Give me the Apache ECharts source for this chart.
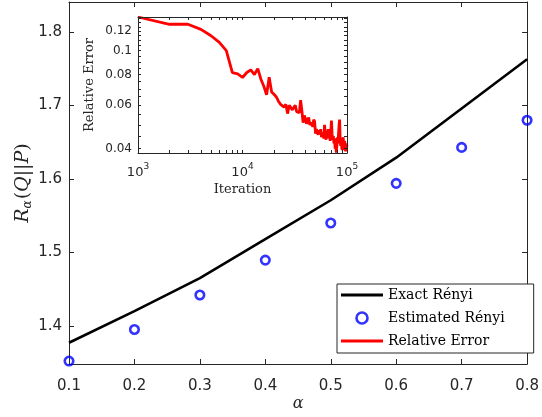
<!DOCTYPE html>
<html>
<head>
<meta charset="utf-8">
<script src="https://cdn.jsdelivr.net/npm/echarts@6/dist/echarts.min.js"></script>
<style>
html,body{margin:0;padding:0;background:#fff;}
#c{width:542px;height:417px;}
</style>
</head>
<body>
<div id="c"></div>
<script>
// ---- data ----
const alphaVals = [0.1, 0.2, 0.3, 0.4, 0.5, 0.6, 0.7, 0.8];
const exactRenyi = [1.377, 1.420, 1.465, 1.518, 1.571, 1.629, 1.696, 1.763];
const estimatedRenyi = [1.352, 1.395, 1.442, 1.4895, 1.540, 1.594, 1.643, 1.680];
const mainYTicks = [1.4, 1.5, 1.6, 1.7, 1.8];

const iterationStep = 1000;
const relativeError = [
  0.137, 0.128, 0.128, 0.122, 0.115, 0.108, 0.100, 0.0814, 0.0805, 0.0778,
  0.0815, 0.0835, 0.0800, 0.0845, 0.0766, 0.0717, 0.0662, 0.0780, 0.0680, 0.0665,
  0.0650, 0.0625, 0.0607, 0.0612, 0.0590, 0.0605, 0.0555, 0.0600, 0.0590, 0.0575,
  0.0582, 0.0600, 0.0565, 0.0575, 0.0560, 0.0630, 0.0570, 0.0510, 0.0545, 0.0530,
  0.0505, 0.0520, 0.0535, 0.0500, 0.0495, 0.0510, 0.0490, 0.0525, 0.0515, 0.0460,
  0.0480, 0.0470, 0.0455, 0.0475, 0.0460, 0.0480, 0.0445, 0.0465, 0.0470, 0.0440,
  0.0500, 0.0450, 0.0435, 0.0470, 0.0455, 0.0480, 0.0440, 0.0465, 0.0430, 0.0470,
  0.0520, 0.0460, 0.0435, 0.0450, 0.0420, 0.0440, 0.0400, 0.0425, 0.0385, 0.0410,
  0.0445, 0.0420, 0.0460, 0.0500, 0.0525, 0.0440, 0.0410, 0.0430, 0.0405, 0.0395,
  0.0420, 0.0445, 0.0410, 0.0395, 0.0430, 0.0400, 0.0390, 0.0420, 0.0405, 0.0415
];
const insetYLabels = [0.04, 0.06, 0.08, 0.1, 0.12];
const insetYMinor = [0.04,0.045,0.05,0.055,0.06,0.065,0.07,0.075,0.08,0.085,0.09,0.095,0.1,0.105,0.11,0.115,0.12,0.125,0.13,0.135];
const insetXTicks = [1000,2000,3000,4000,5000,6000,7000,8000,9000,10000,20000,30000,40000,50000,60000,70000,80000,90000,100000];
const insetXLabels = [1000, 10000, 100000];

// ---- chart ----
const AX = '#262626';
const SANS = 'DejaVu Sans, Arial, sans-serif';
const SERIF = 'DejaVu Serif, Liberation Serif, serif';

const relPairs = relativeError.map((v, i) => [(i + 1) * iterationStep, v]);
const exactPairs = alphaVals.map((a, i) => [a, exactRenyi[i]]);
const estPairs = alphaVals.map((a, i) => [a, estimatedRenyi[i]]);

function mainX(pos, show) {
  return {
    type: 'value', gridIndex: 0, position: pos, min: 0.1, max: 0.8, interval: 0.1, z: 3,
    axisLine: {show: true, onZero: false, lineStyle: {color: AX, width: 1}},
    axisTick: {show: true, inside: true, length: 5, lineStyle: {color: AX}},
    axisLabel: {show: show, margin: 15, color: AX, fontFamily: SANS, fontSize: 15,
      alignMinLabel: 'center', alignMaxLabel: 'center', hideOverlap: false,
      formatter: v => v.toFixed(1)},
    splitLine: {show: false},
    name: show ? 'α' : '', nameLocation: 'middle', nameGap: 32, nameMoveOverlap: false,
    nameTextStyle: {fontFamily: SERIF, fontStyle: 'italic', fontSize: 16, color: AX}
  };
}
function mainY(pos, show) {
  return {
    type: 'value', gridIndex: 0, position: pos, min: 1.348, max: 1.841, z: 3,
    axisLine: {show: true, onZero: false, lineStyle: {color: AX, width: 1}},
    axisTick: {show: true, inside: true, length: 5, lineStyle: {color: AX}, customValues: mainYTicks},
    axisLabel: {show: show, margin: 7, color: AX, fontFamily: SANS, fontSize: 15, customValues: mainYTicks,
      formatter: v => v.toFixed(1)},
    splitLine: {show: false},
    name: show ? '{i|R}{s|α}{n|(}{i|Q}{n|||}{i|P}{n|)}' : '',
    nameLocation: 'middle', nameGap: 35, nameRotate: 90, nameMoveOverlap: false,
    nameTextStyle: {
      color: AX,
      rich: {
        i: {fontFamily: SERIF, fontStyle: 'italic', fontSize: 19, color: AX},
        n: {fontFamily: SERIF, fontSize: 19, color: AX},
        s: {fontFamily: SERIF, fontStyle: 'italic', fontSize: 12, color: AX, verticalAlign: 'bottom', padding: [9, 1, 0, 0]}
      }
    }
  };
}
function insetX(pos, show) {
  return {
    type: 'log', logBase: 10, gridIndex: 1, position: pos, min: 1000, max: 100000, z: 10,
    axisLine: {show: true, onZero: false, lineStyle: {color: AX, width: 1}},
    axisTick: {show: true, inside: true, length: 3, lineStyle: {color: AX}, customValues: insetXTicks},
    axisLabel: {show: show, margin: 7, color: AX, fontFamily: SANS, fontSize: 13, customValues: insetXLabels,
      formatter: v => '{b|10}{e|' + Math.round(Math.log10(v)) + '}',
      rich: {
        b: {fontFamily: SANS, fontSize: 13, color: AX, padding: [6, 0, 0, 0]},
        e: {fontFamily: SANS, fontSize: 9, color: AX, padding: [0, 0, 6, 0]}
      }},
    splitLine: {show: false},
    name: show ? 'Iteration' : '', nameLocation: 'middle', nameGap: 30, nameMoveOverlap: false,
    nameTextStyle: {fontFamily: SERIF, fontSize: 13, color: AX}
  };
}
function insetY(pos, show) {
  return {
    type: 'log', logBase: 10, gridIndex: 1, position: pos, min: 0.0384, max: 0.137, z: 10,
    axisLine: {show: true, onZero: false, lineStyle: {color: AX, width: 1}},
    axisTick: {show: true, inside: true, length: 3, lineStyle: {color: AX}, customValues: insetYMinor},
    axisLabel: {show: show, margin: 6, color: AX, fontFamily: SANS, fontSize: 12, customValues: insetYLabels,
      formatter: v => String(+v.toFixed(2))},
    splitLine: {show: false},
    name: show ? 'Relative Error' : '', nameLocation: 'middle', nameGap: 42, nameRotate: 90, nameMoveOverlap: false,
    nameTextStyle: {fontFamily: SERIF, fontSize: 13, color: AX}
  };
}

const chart = echarts.init(document.getElementById('c'), null, {renderer: 'canvas'});
chart.setOption({
  animation: false,
  backgroundColor: '#fff',
  grid: [
    {left: 69, right: 9, top: 2, bottom: 53, show: false},
    {left: 138, right: 195, top: 17, bottom: 264, show: true, backgroundColor: '#fff', borderWidth: 0, z: 1}
  ],
  xAxis: [mainX('bottom', true), mainX('top', false), insetX('bottom', true), insetX('top', false)],
  yAxis: [mainY('left', true), mainY('right', false), insetY('left', true), insetY('right', false)],
  legend: {
    left: 337, top: 284, orient: 'vertical',
    padding: [4, 29, 5, 4], itemGap: 9, itemWidth: 42, itemHeight: 11,
    borderColor: AX, borderWidth: 1, backgroundColor: '#fff',
    textStyle: {fontFamily: SERIF, fontSize: 14, color: '#000'},
    data: [
      {name: 'Exact Rényi', icon: 'path://M0,0L42,0L42,3L0,3Z', itemStyle: {color: '#000'}},
      {name: 'Estimated Rényi', icon: 'circle',
        itemStyle: {color: 'rgba(0,0,0,0)', borderColor: '#0000ff', borderWidth: 2.6}},
      {name: 'Relative Error', icon: 'path://M0,0L42,0L42,3L0,3Z', itemStyle: {color: '#ff0000'}}
    ]
  },
  series: [
    {
      name: 'Exact Rényi', type: 'line', xAxisIndex: 0, yAxisIndex: 0,
      data: exactPairs, showSymbol: false, symbol: 'none',
      lineStyle: {color: '#000', width: 2.6}, itemStyle: {color: '#000'}, z: 3
    },
    {
      name: 'Estimated Rényi', type: 'scatter', xAxisIndex: 0, yAxisIndex: 0,
      data: estPairs, symbol: 'circle', symbolSize: 8.5, clip: false,
      itemStyle: {color: 'rgba(0,0,0,0)', borderColor: '#0000ff', borderWidth: 2.6}, z: 4
    },
    {
      name: 'Relative Error', type: 'line', xAxisIndex: 2, yAxisIndex: 2,
      data: relPairs, showSymbol: false, symbol: 'none',
      lineStyle: {color: '#ff0000', width: 2.8}, itemStyle: {color: '#ff0000'}, z: 6
    }
  ]
});
</script>
</body>
</html>
